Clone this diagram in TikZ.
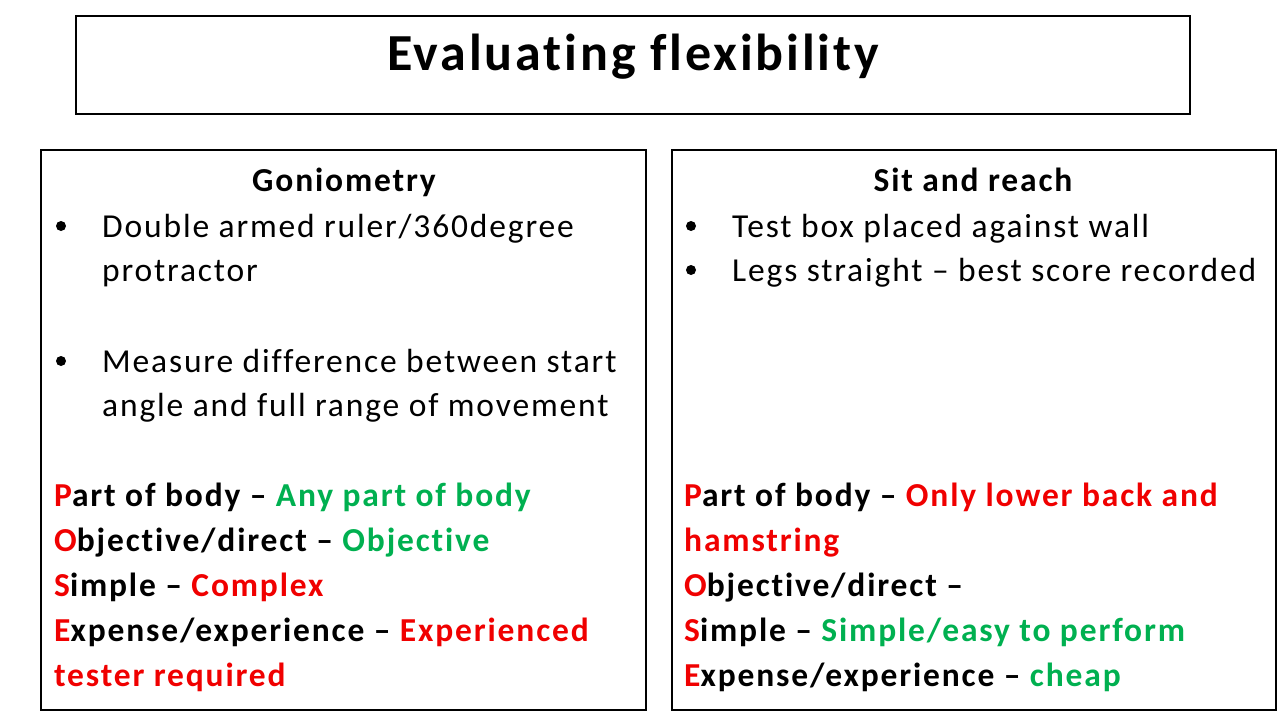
\documentclass[tikz,border=0pt]{standalone}
\usepackage{fontspec}
\setmainfont{Carlito}[LetterSpace=5.5,Ligatures=NoCommon]
\definecolor{pred}{RGB}{240,0,0}
\definecolor{pgreen}{RGB}{0,176,80}
\tikzstyle{panel}=[draw,line width=2.2pt]
\tikzstyle{texto}=[anchor=base west,inner sep=0pt,font=\fontsize{33.5}{38}\selectfont]
\tikzstyle{pose}=[anchor=base west,inner sep=0pt,font=\fontsize{33.5}{38}\selectfont\bfseries]
\tikzstyle{head}=[anchor=base,inner sep=0pt,font=\fontsize{33.5}{38}\selectfont\bfseries]
\tikzstyle{dot}=[circle,fill,inner sep=0pt,minimum size=10pt]

\begin{document}
\begin{tikzpicture}[x=1pt,y=-1pt]
  \useasboundingbox (0,0) rectangle (1280,720);

  % boxes
  \draw [panel] (76,16) rectangle (1190,114);
  \draw [panel] (41,150) rectangle (646,710);
  \draw [panel] (672,150) rectangle (1276,710);
  \node [anchor=base,inner sep=0pt,font=\fontsize{52}{60}\selectfont\bfseries] (title) at (633,70) {Evaluating flexibility};

  % goniometry
  \node [head] (gon) at (344,191) {Goniometry};
  \node [dot] (gb1) at (61,226) {};
  \node [texto] (g1) at (102,237) {Double armed ruler/360degree};
  \node [texto] (g2) at (102,281) {protractor};
  \node [dot] (gb2) at (61,361) {};
  \node [texto] (g3) at (102,372) {Measure difference between start};
  \node [texto] (g4) at (102,416) {angle and full range of movement};
  \node [pose] (gp) at (54,506) {\textcolor{pred}{P}art of body -- \textcolor{pgreen}{Any part of body}};
  \node [pose] (go) at (54,551) {\textcolor{pred}{O}bjective/direct -- \textcolor{pgreen}{Objective}};
  \node [pose] (gs) at (54,596) {\textcolor{pred}{S}imple -- \textcolor{pred}{Complex}};
  \node [pose] (ge) at (54,641) {\textcolor{pred}{E}xpense/experience -- \textcolor{pred}{Experienced}};
  \node [pose] (ge2) at (54,686) {\textcolor{pred}{tester required}};

  % sit and reach
  \node [head] (sit) at (973,191) {Sit and reach};
  \node [dot] (sb1) at (691,226) {};
  \node [texto] (s1) at (732,237) {Test box placed against wall};
  \node [dot] (sb2) at (691,270) {};
  \node [texto] (s2) at (732,281) {Legs straight -- best score recorded};
  \node [pose] (sp) at (684,506) {\textcolor{pred}{P}art of body -- \textcolor{pred}{Only lower back and}};
  \node [pose] (sp2) at (684,551) {\textcolor{pred}{hamstring}};
  \node [pose] (so) at (684,596) {\textcolor{pred}{O}bjective/direct --};
  \node [pose] (ss) at (684,641) {\textcolor{pred}{S}imple -- \textcolor{pgreen}{Simple/easy to perform}};
  \node [pose] (se) at (684,686) {\textcolor{pred}{E}xpense/experience -- \textcolor{pgreen}{cheap}};
\end{tikzpicture}
\end{document}
